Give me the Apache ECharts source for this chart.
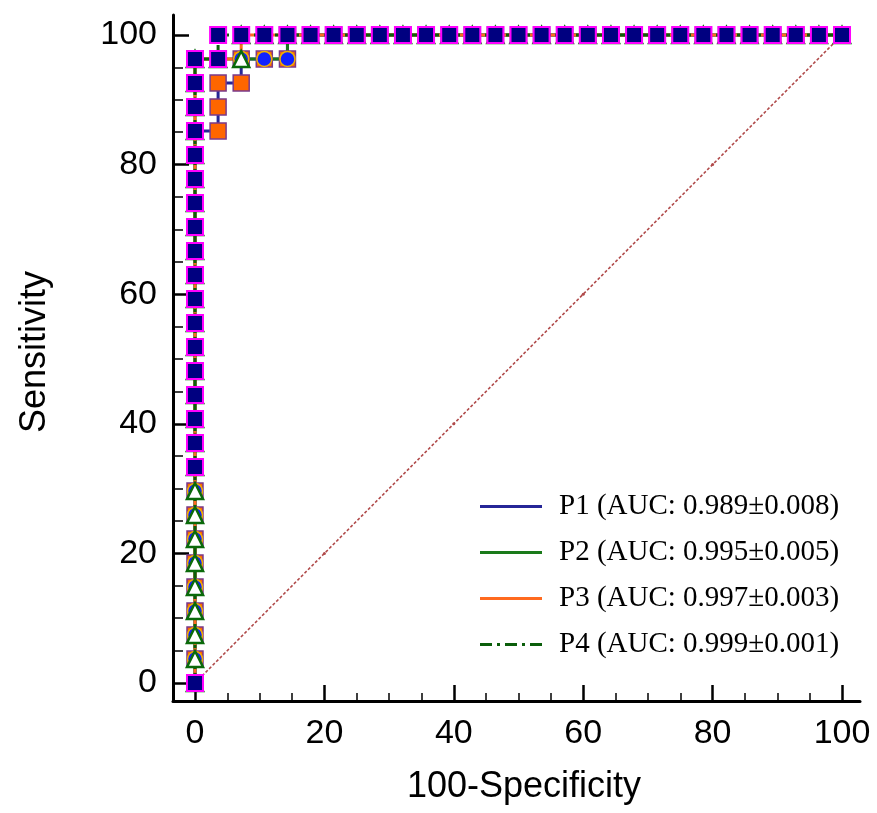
<!DOCTYPE html>
<html>
<head>
<meta charset="utf-8">
<script src="https://cdn.jsdelivr.net/npm/echarts@6/dist/echarts.min.js"></script>
<style>
html,body{margin:0;padding:0;background:#fff;}
#chart{width:877px;height:813px;}
</style>
</head>
<body>
<div id="chart"></div>
<script>
// Series names (legend text)
const seriesNames = [
  'P1 (AUC: 0.989±0.008)',
  'P2 (AUC: 0.995±0.005)',
  'P3 (AUC: 0.997±0.003)',
  'P4 (AUC: 0.999±0.001)'
];

// Tick values
const majorTicks = [0, 20, 40, 60, 80, 100];
const minorTicks = [5, 10, 15, 25, 30, 35, 45, 50, 55, 65, 70, 75, 85, 90, 95];

// ROC points: [100-Specificity, Sensitivity]
const p1 = [
  [0,0],[0,3.70],[0,7.41],[0,11.11],[0,14.81],[0,18.52],[0,22.22],[0,25.93],[0,29.63],
  [0,33.33],[0,37.04],[0,40.74],[0,44.44],[0,48.15],[0,51.85],[0,55.56],[0,59.26],
  [0,62.96],[0,66.67],[0,70.37],[0,74.07],[0,77.78],[0,81.48],[0,85.19],
  [3.57,85.19],[3.57,88.89],[3.57,92.59],[7.14,92.59],[7.14,96.30],[10.71,96.30],
  [14.29,96.30],[14.29,100],[17.86,100],[21.43,100],[25.00,100],[28.57,100],[32.14,100],
  [35.71,100],[39.29,100],[42.86,100],[46.43,100],[50.00,100],[53.57,100],[57.14,100],
  [60.71,100],[64.29,100],[67.86,100],[71.43,100],[75.00,100],[78.57,100],[82.14,100],
  [85.71,100],[89.29,100],[92.86,100],[96.43,100],[100,100]
];
const p2 = [
  [0,0],[0,3.70],[0,7.41],[0,11.11],[0,14.81],[0,18.52],[0,22.22],[0,25.93],[0,29.63],
  [0,33.33],[0,37.04],[0,40.74],[0,44.44],[0,48.15],[0,51.85],[0,55.56],[0,59.26],
  [0,62.96],[0,66.67],[0,70.37],[0,74.07],[0,77.78],[0,81.48],[0,85.19],[0,88.89],
  [0,92.59],[0,96.30],[3.57,96.30],[7.14,96.30],[10.71,96.30],[14.29,96.30],[14.29,100],
  [17.86,100],[21.43,100],[25.00,100],[28.57,100],[32.14,100],[35.71,100],[39.29,100],
  [42.86,100],[46.43,100],[50.00,100],[53.57,100],[57.14,100],[60.71,100],[64.29,100],
  [67.86,100],[71.43,100],[75.00,100],[78.57,100],[82.14,100],[85.71,100],[89.29,100],
  [92.86,100],[96.43,100],[100,100]
];
const p3 = [
  [0,0],[0,3.70],[0,7.41],[0,11.11],[0,14.81],[0,18.52],[0,22.22],[0,25.93],[0,29.63],
  [0,33.33],[0,37.04],[0,40.74],[0,44.44],[0,48.15],[0,51.85],[0,55.56],[0,59.26],
  [0,62.96],[0,66.67],[0,70.37],[0,74.07],[0,77.78],[0,81.48],[0,85.19],[0,88.89],
  [0,92.59],[0,96.30],[3.57,96.30],[7.14,96.30],[7.14,100],[10.71,100],[14.29,100],
  [17.86,100],[21.43,100],[25.00,100],[28.57,100],[32.14,100],[35.71,100],[39.29,100],
  [42.86,100],[46.43,100],[50.00,100],[53.57,100],[57.14,100],[60.71,100],[64.29,100],
  [67.86,100],[71.43,100],[75.00,100],[78.57,100],[82.14,100],[85.71,100],[89.29,100],
  [92.86,100],[96.43,100],[100,100]
];
const p4 = [
  [0,0],[0,33.33],[0,37.04],[0,40.74],[0,44.44],[0,48.15],[0,51.85],[0,55.56],[0,59.26],
  [0,62.96],[0,66.67],[0,70.37],[0,74.07],[0,77.78],[0,81.48],[0,85.19],[0,88.89],
  [0,92.59],[0,96.30],[3.57,96.30],[3.57,100],[7.14,100],[10.71,100],[14.29,100],
  [17.86,100],[21.43,100],[25.00,100],[28.57,100],[32.14,100],[35.71,100],[39.29,100],
  [42.86,100],[46.43,100],[50.00,100],[53.57,100],[57.14,100],[60.71,100],[64.29,100],
  [67.86,100],[71.43,100],[75.00,100],[78.57,100],[82.14,100],[85.71,100],[89.29,100],
  [92.86,100],[96.43,100],[100,100]
];
// Reference diagonal
const diagonal = [[0,0],[20,20],[40,40],[60,60],[80,80],[100,100]];

const curves = [p1, p2, p3, p4];

// Styles
const lineColors = ['#262697', '#1a7a1a', '#ff6a1f', '#0b5e0b'];
const lineTypes = ['solid', 'solid', 'solid', [10, 4, 3, 4]];
const markerStyles = [
  { symbol: 'rect', size: 16, color: '#ff6600', borderColor: '#7a3a8a', borderWidth: 1.5 },
  { symbol: 'circle', size: 15, color: '#1020ff', borderColor: '#f0b000', borderWidth: 1.5 },
  { symbol: 'triangle', size: 16, color: '#ffffff', borderColor: '#0a6a0a', borderWidth: 2.5 },
  { symbol: 'rect', size: 16, color: '#000080', borderColor: '#ff00ff', borderWidth: 2 }
];
const legendIcons = [
  'path://M0,0h62v3h-62z',
  'path://M0,0h62v3h-62z',
  'path://M0,0h62v3h-62z',
  'path://M0,0h12v3h-12z M17,0h3v3h-3z M25,0h12v3h-12z M42,0h3v3h-3z M50,0h12v3h-12z'
];

const FONT = 'Liberation Sans';
const X_MIN = -3.4, X_MAX = 102.78, Y_MIN = -2.78, Y_MAX = 103.08;

const chart = echarts.init(document.getElementById('chart'), null, { renderer: 'canvas' });

const series = [];
series.push({
  type: 'line', name: 'diag', data: diagonal, z: 1,
  symbol: 'circle', symbolSize: 3, showSymbol: true,
  itemStyle: { color: '#b04a4a' },
  lineStyle: { color: '#b04a4a', width: 1.6, type: [3, 2] },
  silent: true
});
curves.forEach((d, i) => {
  series.push({
    type: 'line', name: seriesNames[i], data: d, z: 2,
    showSymbol: false, symbol: 'none',
    itemStyle: { color: lineColors[i] },
    lineStyle: { color: lineColors[i], width: 3, type: lineTypes[i] },
    silent: true
  });
});
curves.forEach((d, i) => {
  const m = markerStyles[i];
  series.push({
    type: 'scatter', name: seriesNames[i] + ' markers', data: d, z: 3,
    symbol: m.symbol, symbolSize: m.size,
    itemStyle: { color: m.color, borderColor: m.borderColor, borderWidth: m.borderWidth, opacity: 1 },
    silent: true
  });
});

const option = {
  animation: false,
  backgroundColor: '#ffffff',
  grid: { left: 173, right: 17, top: 15, bottom: 112, containLabel: false },
  legend: {
    orient: 'vertical', left: 475, top: 487,
    itemWidth: 62, itemHeight: 3, itemGap: 17,
    selectedMode: false,
    data: seriesNames.map((n, i) => ({ name: n, icon: legendIcons[i] })),
    textStyle: { fontFamily: 'Liberation Serif', fontSize: 29, color: '#000', padding: [0, 0, 0, 12] }
  },
  xAxis: [
    {
      type: 'value', min: X_MIN, max: X_MAX, position: 'bottom',
      name: '100-Specificity', nameLocation: 'middle', nameGap: 68,
      nameTextStyle: { fontFamily: FONT, fontSize: 36, color: '#000', padding: [0, 0, 0, 15] },
      axisLine: { show: true, onZero: false, lineStyle: { color: '#000', width: 3 } },
      axisTick: { show: true, inside: true, length: 16, customValues: majorTicks, lineStyle: { color: '#000', width: 2.5 } },
      axisLabel: { show: true, customValues: majorTicks, fontFamily: FONT, fontSize: 34, color: '#000', margin: 16 },
      splitLine: { show: false }
    },
    {
      type: 'value', min: X_MIN, max: X_MAX, position: 'bottom', offset: 0,
      axisLine: { show: false, onZero: false },
      axisTick: { show: true, inside: true, length: 8, customValues: minorTicks, lineStyle: { color: '#000', width: 1.5 } },
      axisLabel: { show: false },
      splitLine: { show: false }
    }
  ],
  yAxis: [
    {
      type: 'value', min: Y_MIN, max: Y_MAX, position: 'left',
      name: 'Sensitivity', nameLocation: 'middle', nameGap: 120,
      nameTextStyle: { fontFamily: FONT, fontSize: 36, color: '#000', padding: [0, 0, 0, 12] },
      axisLine: { show: true, onZero: false, lineStyle: { color: '#000', width: 3 } },
      axisTick: { show: true, inside: true, length: 16, customValues: majorTicks, lineStyle: { color: '#000', width: 2.5 } },
      axisLabel: { show: true, customValues: majorTicks, fontFamily: FONT, fontSize: 34, color: '#000', margin: 16 },
      splitLine: { show: false }
    },
    {
      type: 'value', min: Y_MIN, max: Y_MAX, position: 'left', offset: 0,
      axisLine: { show: false, onZero: false },
      axisTick: { show: true, inside: true, length: 10, customValues: minorTicks, lineStyle: { color: '#000', width: 1.5 } },
      axisLabel: { show: false },
      splitLine: { show: false }
    }
  ],
  series: series
};
chart.setOption(option);
</script>
</body>
</html>
